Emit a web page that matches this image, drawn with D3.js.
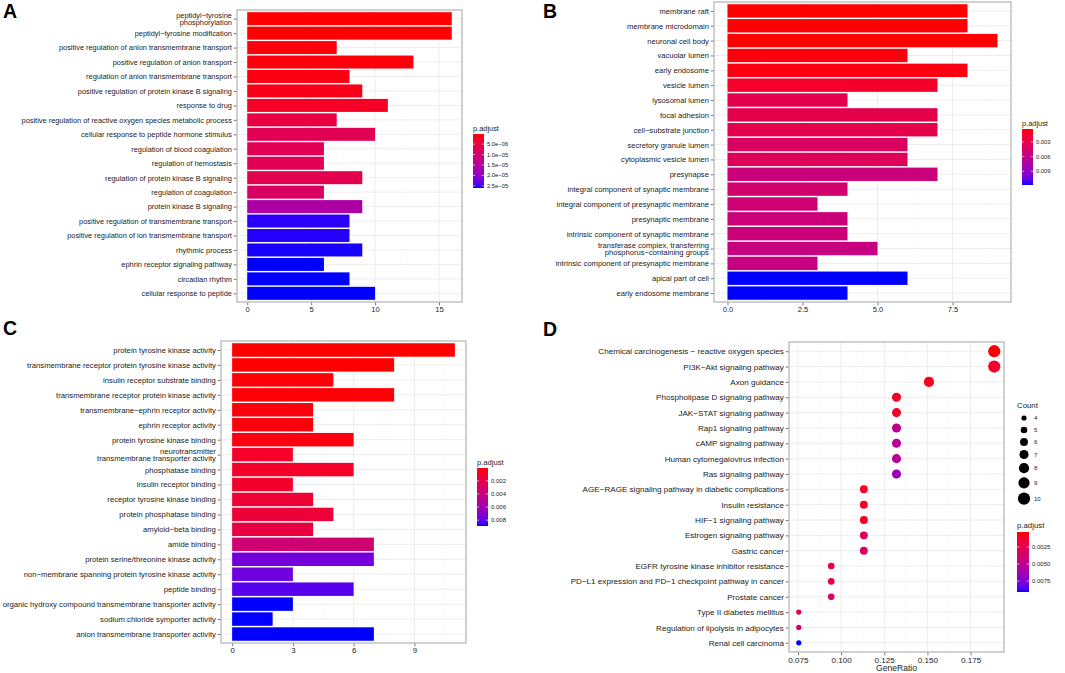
<!DOCTYPE html>
<html>
<head>
<meta charset="utf-8">
<title>Enrichment analysis</title>
<script src="https://cdn.jsdelivr.net/npm/d3@7"></script>
<style>
  body { margin: 0; background: #fff; }
  svg text { font-family: "Liberation Sans", Arial, Helvetica, sans-serif; }
</style>
</head>
<body>
<svg id="chart" width="1065" height="673"></svg>
<script>
/* ------------------
  data
------------------ */

// A: GO biological process
var aTerms = ["peptidyl-tyrosine\nphosphorylation", "peptidyl-tyrosine modification",
  "positive regulation of anion transmembrane transport", "positive regulation of anion transport",
  "regulation of anion transmembrane transport", "positive regulation of protein kinase B signaling",
  "response to drug", "positive regulation of reactive oxygen species metabolic process",
  "cellular response to peptide hormone stimulus", "regulation of blood coagulation",
  "regulation of hemostasis", "regulation of protein kinase B signaling", "regulation of coagulation",
  "protein kinase B signaling", "positive regulation of transmembrane transport",
  "positive regulation of ion transmembrane transport", "rhythmic process",
  "ephrin receptor signaling pathway", "circadian rhythm", "cellular response to peptide"];
var aCounts = [16, 16, 7, 13, 8, 9, 11, 7, 10, 6, 6, 9, 6, 9, 8, 8, 9, 6, 8, 10];
var aPadj = [1.5e-7, 2.5e-7, 6e-7, 6e-7, 9e-7, 1.3e-6, 2.4e-6, 5.2e-6, 7.0e-6, 7.0e-6,
  7.0e-6, 6.5e-6, 8.6e-6, 1.62e-5, 2.55e-5, 2.56e-5, 2.58e-5, 2.6e-5, 2.6e-5, 2.6e-5];
var aXTicks = [0, 5, 10, 15];
var aXLabels = ["0", "5", "10", "15"];
var aPTicks = [5e-6, 1e-5, 1.5e-5, 2e-5, 2.5e-5];
var aPLabels = ["5.0e-06", "1.0e-05", "1.5e-05", "2.0e-05", "2.5e-05"];

// B: GO cellular component
var bTerms = ["membrane raft", "membrane microdomain", "neuronal cell body", "vacuolar lumen",
  "early endosome", "vesicle lumen", "lysosomal lumen", "focal adhesion", "cell-substrate junction",
  "secretory granule lumen", "cytoplasmic vesicle lumen", "presynapse",
  "integral component of synaptic membrane", "integral component of presynaptic membrane",
  "presynaptic membrane", "intrinsic component of synaptic membrane",
  "transferase complex, transferring\nphosphorus-containing groups",
  "intrinsic component of presynaptic membrane", "apical part of cell", "early endosome membrane"];
var bCounts = [8, 8, 9, 6, 8, 7, 4, 7, 7, 6, 6, 7, 4, 3, 4, 4, 5, 3, 6, 4];
var bPadj = [0.00036, 0.0004, 0.0004, 0.0006, 0.0007, 0.0015, 0.0031, 0.003, 0.003, 0.004,
  0.0037, 0.0054, 0.0047, 0.005, 0.0053, 0.0053, 0.0057, 0.0057, 0.0118, 0.0118];
var bXTicks = [0, 2.5, 5, 7.5];
var bXLabels = ["0.0", "2.5", "5.0", "7.5"];
var bPTicks = [0.003, 0.006, 0.009];
var bPLabels = ["0.003", "0.006", "0.009"];

// C: GO molecular function
var cTerms = ["protein tyrosine kinase activity", "transmembrane receptor protein tyrosine kinase activity",
  "insulin receptor substrate binding", "transmembrane receptor protein kinase activity",
  "transmembrane-ephrin receptor activity", "ephrin receptor activity", "protein tyrosine kinase binding",
  "neurotransmitter\ntransmembrane transporter activity", "phosphatase binding", "insulin receptor binding",
  "receptor tyrosine kinase binding", "protein phosphatase binding", "amyloid-beta binding",
  "amide binding", "protein serine/threonine kinase activity",
  "non-membrane spanning protein tyrosine kinase activity", "peptide binding",
  "organic hydroxy compound transmembrane transporter activity", "sodium:chloride symporter activity",
  "anion transmembrane transporter activity"];
var cCounts = [11, 8, 5, 8, 4, 4, 6, 3, 6, 3, 4, 5, 4, 7, 7, 3, 6, 3, 2, 7];
var cPadj = [0.00003, 0.00005, 0.0001, 0.0001, 0.0002, 0.0002, 0.0003, 0.0009, 0.0009, 0.001,
  0.0013, 0.0014, 0.0018, 0.0036, 0.0076, 0.0077, 0.0082, 0.0089, 0.0089, 0.0089];
var cXTicks = [0, 3, 6, 9];
var cXLabels = ["0", "3", "6", "9"];
var cPTicks = [0.002, 0.004, 0.006, 0.008];
var cPLabels = ["0.002", "0.004", "0.006", "0.008"];

// D: KEGG pathways
var dTerms = ["Chemical carcinogenesis - reactive oxygen species", "PI3K-Akt signaling pathway",
  "Axon guidance", "Phospholipase D signaling pathway", "JAK-STAT signaling pathway",
  "Rap1 signaling pathway", "cAMP signaling pathway", "Human cytomegalovirus infection",
  "Ras signaling pathway", "AGE-RAGE signaling pathway in diabetic complications",
  "Insulin resistance", "HIF-1 signaling pathway", "Estrogen signaling pathway", "Gastric cancer",
  "EGFR tyrosine kinase inhibitor resistance", "PD-L1 expression and PD-1 checkpoint pathway in cancer",
  "Prostate cancer", "Type II diabetes mellitus", "Regulation of lipolysis in adipocytes",
  "Renal cell carcinoma"];
var dGeneRatio = [0.1887, 0.1887, 0.1509, 0.1321, 0.1321, 0.1321, 0.1321, 0.1321, 0.1321,
  0.1132, 0.1132, 0.1132, 0.1132, 0.1132, 0.0943, 0.0943, 0.0943, 0.0755, 0.0755, 0.0755];
var dCounts = [10, 10, 8, 7, 7, 7, 7, 7, 7, 6, 6, 6, 6, 6, 5, 5, 5, 4, 4, 4];
var dPadj = [0.0003, 0.0012, 0.0008, 0.0012, 0.0012, 0.0051, 0.0052, 0.0052, 0.0066, 0.0011,
  0.0011, 0.0011, 0.0029, 0.0031, 0.0021, 0.0026, 0.0034, 0.0029, 0.0038, 0.0091];
var dXTicks = [0.075, 0.1, 0.125, 0.15, 0.175];
var dXLabels = ["0.075", "0.100", "0.125", "0.150", "0.175"];
var dPTicks = [0.0025, 0.005, 0.0075];
var dPLabels = ["0.0025", "0.0050", "0.0075"];
var dCountTicks = [4, 5, 6, 7, 8, 9, 10];


/* ------------------
  helpers
------------------ */

var svg = d3.select("#chart");
var defs = svg.append("defs");
var TXT = "#222", GRID = "#ebebeb", MINOR = "#f4f4f4", BORDER = "#b8b8b8";

// R prints hyphens in labels as minus signs
function dash(s) { return s.replace(/-/g, "\u2212"); }

function padjColor(padj) {
  return d3.scaleLinear().domain(d3.extent(padj)).range(["red", "blue"]).interpolate(d3.interpolateLab);
}

function letter(txt, x, y) {
  svg.append("text").attr("x", x).attr("y", y).attr("font-size", 19.5).attr("font-weight", "bold")
    .attr("fill", "#000").text(txt);
}

// white panel with major/minor grid, drawn under the marks
function grid(g, x, y, o) {
  var step = o.xTicks[1] - o.xTicks[0];
  var dom = x.domain();
  var minor = o.xTicks.map(function(t) { return t - step / 2; })
    .concat([o.xTicks[o.xTicks.length - 1] + step / 2])
    .filter(function(v) { return v > dom[0] && v < dom[1]; });

  g.append("rect").attr("x", o.left).attr("y", o.top).attr("width", o.right - o.left)
    .attr("height", o.bottom - o.top).attr("fill", "#fff");
  g.selectAll(".minor").data(minor).join("line").attr("class", "minor")
    .attr("x1", x).attr("x2", x).attr("y1", o.top).attr("y2", o.bottom)
    .attr("stroke", MINOR).attr("stroke-width", 0.5);
  g.selectAll(".vmajor").data(o.xTicks).join("line").attr("class", "vmajor")
    .attr("x1", x).attr("x2", x).attr("y1", o.top).attr("y2", o.bottom)
    .attr("stroke", GRID).attr("stroke-width", 0.9);
  g.selectAll(".hmajor").data(o.terms).join("line").attr("class", "hmajor")
    .attr("y1", y).attr("y2", y).attr("x1", o.left).attr("x2", o.right)
    .attr("stroke", GRID).attr("stroke-width", 0.9);
}

// axes, border on top of the marks
function axes(g, x, y, o) {
  g.append("rect").attr("x", o.left).attr("y", o.top).attr("width", o.right - o.left)
    .attr("height", o.bottom - o.top).attr("fill", "none").attr("stroke", BORDER).attr("stroke-width", 1.3);

  var ax = g.append("g").attr("transform", "translate(0," + (o.bottom + 0.6) + ")")
    .call(d3.axisBottom(x).tickValues(o.xTicks)
      .tickFormat(function(d, i) { return o.xLabels[i]; }).tickSize(2.7).tickPadding(1.6));
  ax.select(".domain").remove();
  ax.selectAll("line").attr("stroke", "#555").attr("stroke-width", 0.8);
  ax.selectAll("text").attr("fill", TXT).attr("font-size", o.tickFs).attr("font-family", null);

  var ay = g.append("g").attr("transform", "translate(" + (o.left - 0.6) + ",0)")
    .call(d3.axisLeft(y).tickSize(2.7).tickPadding(1.8));
  ay.select(".domain").remove();
  ay.selectAll("line").attr("stroke", "#555").attr("stroke-width", 0.8);
  ay.selectAll("text").attr("fill", TXT).attr("font-size", o.fs).attr("font-family", null)
    .each(function(d) {
      var t = d3.select(this), lines = d.split("\n");
      t.text(null);
      var lh = 0.95;
      lines.forEach(function(l, i) {
        t.append("tspan").attr("x", t.attr("x"))
          .attr("dy", i === 0 ? (0.32 - lh * (lines.length - 1) / 2) + "em" : lh + "em")
          .text(dash(l));
      });
    })
    .attr("dy", null);
}

function colorbar(color, o) {
  var dom = color.domain();
  var grad = defs.append("linearGradient").attr("id", o.id)
    .attr("x1", 0).attr("y1", 0).attr("x2", 0).attr("y2", 1);
  d3.range(0, 1.0001, 0.05).forEach(function(t) {
    grad.append("stop").attr("offset", t).attr("stop-color", color(dom[0] + t * (dom[1] - dom[0])));
  });
  var s = d3.scaleLinear().domain(dom).range([o.y0, o.y1]);
  var g = svg.append("g");
  g.append("text").attr("x", o.x).attr("y", o.titleY).attr("font-size", o.titleFs)
    .attr("fill", TXT).text("p.adjust");
  g.append("rect").attr("x", o.x).attr("y", o.y0).attr("width", o.w).attr("height", o.y1 - o.y0)
    .attr("fill", "url(#" + o.id + ")");
  var tl = o.w / 5;
  g.selectAll(".tl").data(o.ticks).join("line")
    .attr("x1", o.x).attr("x2", o.x + tl).attr("y1", s).attr("y2", s)
    .attr("stroke", "#fff").attr("stroke-width", 0.6);
  g.selectAll(".tr").data(o.ticks).join("line")
    .attr("x1", o.x + o.w - tl).attr("x2", o.x + o.w).attr("y1", s).attr("y2", s)
    .attr("stroke", "#fff").attr("stroke-width", 0.6);
  g.selectAll(".lab").data(o.ticks).join("text")
    .attr("x", o.x + o.w + 3).attr("y", s).attr("dy", "0.35em")
    .attr("font-size", o.labFs).attr("fill", TXT)
    .text(function(d, i) { return dash(o.labels[i]); });
}

function barPanel(o) {
  var max = d3.max(o.counts);
  var x = d3.scaleLinear().domain([-0.05 * max, 1.05 * max]).range([o.left, o.right]);
  var y = d3.scalePoint().domain(o.terms).range([o.top, o.bottom]).padding(0.6);
  var color = padjColor(o.padj);
  var bh = y.step() * 0.9;
  var g = svg.append("g");
  grid(g, x, y, o);
  g.selectAll(".bar").data(o.terms).join("rect").attr("class", "bar")
    .attr("x", x(0)).attr("y", function(d) { return y(d) - bh / 2; })
    .attr("width", function(d, i) { return x(o.counts[i]) - x(0); })
    .attr("height", bh)
    .attr("fill", function(d, i) { return color(o.padj[i]); });
  axes(g, x, y, o);
  colorbar(color, o.legend);
}

/* ------------------
  draw
------------------ */

barPanel({
  terms: aTerms, counts: aCounts, padj: aPadj, xTicks: aXTicks, xLabels: aXLabels,
  left: 237, right: 462, top: 10, bottom: 302, fs: 7.4, tickFs: 7.6,
  legend: { id: "gA", x: 473, w: 11, y0: 134, y1: 188, titleY: 131, titleFs: 7.4, labFs: 5.8,
    ticks: aPTicks, labels: aPLabels }
});

barPanel({
  terms: bTerms, counts: bCounts, padj: bPadj, xTicks: bXTicks, xLabels: bXLabels,
  left: 714, right: 1011, top: 2, bottom: 302, fs: 7.6, tickFs: 7.6,
  legend: { id: "gB", x: 1022, w: 11, y0: 129, y1: 185, titleY: 126, titleFs: 7.4, labFs: 5.8,
    ticks: bPTicks, labels: bPLabels }
});

barPanel({
  terms: cTerms, counts: cCounts, padj: cPadj, xTicks: cXTicks, xLabels: cXLabels,
  left: 221, right: 466, top: 341, bottom: 643, fs: 7.7, tickFs: 7.8,
  legend: { id: "gC", x: 477, w: 11, y0: 468, y1: 526, titleY: 465, titleFs: 7.6, labFs: 6,
    ticks: cPTicks, labels: cPLabels }
});

// D: dot plot
(function() {
  var o = { terms: dTerms, xTicks: dXTicks, xLabels: dXLabels,
    left: 789, right: 1004, top: 342, bottom: 652, fs: 8.1, tickFs: 8.1 };
  var ext = d3.extent(dGeneRatio), pad = (ext[1] - ext[0]) * 0.05;
  var x = d3.scaleLinear().domain([ext[0] - pad, ext[1] + pad]).range([o.left, o.right]);
  var y = d3.scalePoint().domain(dTerms).range([o.top, o.bottom]).padding(0.6);
  var r = d3.scaleSqrt().domain(d3.extent(dCounts)).range([2.6, 6.1]);
  var color = padjColor(dPadj);
  var g = svg.append("g");
  grid(g, x, y, o);
  g.selectAll(".dot").data(dTerms).join("circle").attr("class", "dot")
    .attr("cx", function(d, i) { return x(dGeneRatio[i]); })
    .attr("cy", function(d) { return y(d); })
    .attr("r", function(d, i) { return r(dCounts[i]); })
    .attr("fill", function(d, i) { return color(dPadj[i]); });
  axes(g, x, y, o);
  svg.append("text").attr("x", (o.left + o.right) / 2).attr("y", 671).attr("text-anchor", "middle")
    .attr("font-size", 8.6).attr("fill", TXT).text("GeneRatio");

  // size legend
  var lg = svg.append("g");
  lg.append("text").attr("x", 1017).attr("y", 408).attr("font-size", 7.8).attr("fill", TXT).text("Count");
  var cy = 412, keys = [];
  dCountTicks.forEach(function(c) {
    var h = Math.max(12, 2 * r(c) + 4);
    keys.push({ c: c, y: cy + h / 2 });
    cy += h;
  });
  lg.selectAll("circle").data(keys).join("circle")
    .attr("cx", 1024).attr("cy", function(d) { return d.y; })
    .attr("r", function(d) { return r(d.c); }).attr("fill", "#000");
  lg.selectAll(".cl").data(keys).join("text").attr("class", "cl")
    .attr("x", 1034).attr("y", function(d) { return d.y; }).attr("dy", "0.35em")
    .attr("font-size", 6).attr("fill", TXT).text(function(d) { return d.c; });

  colorbar(color, { id: "gD", x: 1017, w: 12, y0: 532, y1: 592, titleY: 528, titleFs: 7.8, labFs: 6,
    ticks: dPTicks, labels: dPLabels });
})();

letter("A", 3, 18);
letter("B", 543, 18);
letter("C", 3, 335);
letter("D", 543, 336);
</script>
</body>
</html>
